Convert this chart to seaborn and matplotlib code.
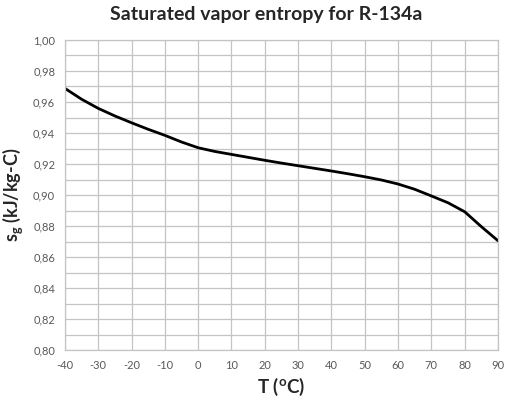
import numpy as np
import pandas as pd
import matplotlib
matplotlib.use("Agg")
import matplotlib.pyplot as plt
from matplotlib.ticker import MultipleLocator, FuncFormatter
import seaborn as sns

# saturated vapor entropy of R-134a, every 5 degC
temps = [-40, -35, -30, -25, -20, -15, -10, -5, 0, 5, 10, 15, 20, 25,
         30, 35, 40, 45, 50, 55, 60, 65, 70, 75, 80, 85, 90]
s_g = [0.9688, 0.9618, 0.9559, 0.9510, 0.9466, 0.9424, 0.9385, 0.9342,
       0.9305, 0.9281, 0.9262, 0.9243, 0.9224, 0.9206, 0.9189, 0.9172,
       0.9155, 0.9137, 0.9118, 0.9097, 0.9071, 0.9037, 0.8994, 0.8950,
       0.8892, 0.8796, 0.8705]

df = pd.DataFrame({"T": temps, "sg": s_g})

sns.set_style("white")
plt.rcParams['font.family'] = ['Lato', 'DejaVu Sans']

fig = plt.figure(figsize=(5.11, 4.01), dpi=100)
ax = fig.add_axes([0.127, 0.127, 0.8476, 0.7733])

sns.lineplot(data=df, x="T", y="sg", ax=ax, color="black", linewidth=2.0)
ax.lines[0].set_solid_joinstyle("round")

ax.set_xlim(-40, 90)
ax.set_ylim(0.80, 1.00)
ax.xaxis.set_major_locator(MultipleLocator(10))
ax.yaxis.set_major_locator(MultipleLocator(0.02))
ax.yaxis.set_minor_locator(MultipleLocator(0.01))
ax.yaxis.set_major_formatter(FuncFormatter(lambda v, p: f"{v:.2f}".replace(".", ",")))
ax.xaxis.set_major_formatter(FuncFormatter(lambda v, p: f"{v:.0f}"))

grid_c = "#c4c4c4"
ax.grid(True, which="major", axis="both", color=grid_c, linewidth=0.9)
ax.grid(True, which="minor", axis="y", color=grid_c, linewidth=0.9)
ax.set_axisbelow(True)
for sp in ax.spines.values():
    sp.set_color(grid_c)
    sp.set_linewidth(0.9)

ax.tick_params(axis="both", which="both", length=0, labelsize=8,
               labelcolor="#595959", pad=7)

ax.set_xlabel("T ($\\mathregular{^o}$C)", fontsize=13.5, fontweight="bold",
              labelpad=4)
ax.set_ylabel("s$\\mathregular{_g}$ (kJ/kg-C)", fontsize=13,
              fontweight="bold", labelpad=6)
fig.suptitle("Saturated vapor entropy for R-134a", x=0.52, y=0.985,
             fontsize=14, fontweight="bold")

fig.savefig("out.png", dpi=100)
